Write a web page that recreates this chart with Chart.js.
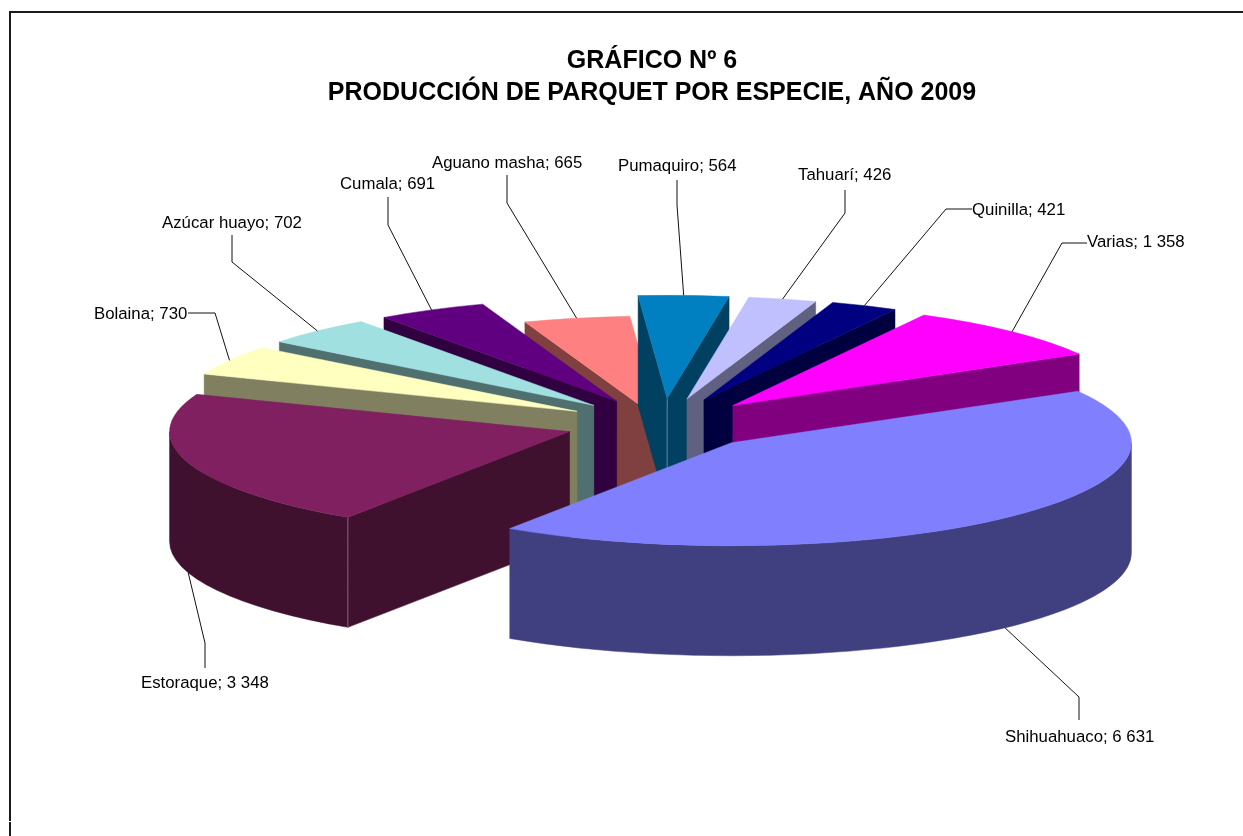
<!DOCTYPE html>
<html><head><meta charset="utf-8">
<style>
html,body{margin:0;padding:0;background:#fff;width:1243px;height:836px;overflow:hidden}
.f{position:absolute;background:#1a1a1a}
#c{position:absolute;left:60px;top:0}
</style>
<script src="https://cdn.jsdelivr.net/npm/chart.js@4"></script>
</head><body>
<div class="f" style="left:9px;top:11px;width:1234px;height:1.5px"></div>
<div class="f" style="left:9px;top:11px;width:1.5px;height:810px"></div>
<div class="f" style="left:9px;top:822px;width:1.5px;height:14px"></div>
<canvas id="c" width="1183" height="836"></canvas>
<script>
const titleLines = ['GRÁFICO Nº 6', 'PRODUCCIÓN DE PARQUET POR ESPECIE, AÑO 2009'];
const categories = ['Shihuahuaco','Estoraque','Bolaina','Azúcar huayo','Cumala','Aguano masha','Pumaquiro','Tahuarí','Quinilla','Varias'];
const values = [6631,3348,730,702,691,665,564,426,421,1358];
const topColors = ['#8080FF','#802060','#FFFFC0','#A0E0E0','#600080','#FF8080','#0080C0','#C0C0FF','#000080','#FF00FF'];
const sideColors = ['#404080','#40102F','#808060','#507070','#300040','#804040','#004060','#606080','#000040','#800080'];
const explode = [100,98,99,100,100,20,100,100,102,100];
const paintOrder = [5,6,7,8,4,3,9,2,1,0];

// Projection of the pie's ground plane onto the page
const SQUASH = 0.2575, DEPTH = 110, PLANE_DX = 11;
// Label layout in canvas pixels: text anchor [x, y, align], then elbow points from the label to the slice
const labelLayout = [
  {t:[945,737,'left'],   p:[[1019,720],[1019,697]]},
  {t:[81,683,'left'],    p:[[145,668],[145,643]]},
  {t:[34,314,'left'],    p:[[128,313],[155,313]]},
  {t:[102,223,'left'],   p:[[172,235],[172,262]]},
  {t:[280,184,'left'],   p:[[328,197],[328,225]]},
  {t:[372,163,'left'],   p:[[447,175],[447,203]]},
  {t:[558,166,'left'],   p:[[617,180],[617,205]]},
  {t:[738,175,'left'],   p:[[785,190],[785,213]]},
  {t:[912,210,'left'],   p:[[912,209],[886,209]]},
  {t:[1027,242,'left'],  p:[[1027,243],[1002,243]]}
];

function fmt(v){ return String(v).replace(/\B(?=(\d{3})+(?!\d))/g,' '); }

function geom(el){
  const p = el.getProps(['x','y','startAngle','endAngle','outerRadius']);
  const off = el.options.offset || 0;
  const mid = (p.startAngle + p.endAngle) / 2;
  return { a0:p.startAngle, a1:p.endAngle, mid, R:p.outerRadius,
    ax:p.x + PLANE_DX + off*Math.cos(mid), ay:p.y + off*Math.sin(mid)*SQUASH };
}

class Pie3D extends Chart.PieController {
  draw(){
    const ctx = this.chart.ctx, data = this._cachedMeta.data;
    paintOrder.forEach(i => {
      const el = data[i]; if(!el) return;
      const g = geom(el), top = el.options.backgroundColor, side = sideColors[i];
      const px = t => g.ax + g.R*Math.cos(t), py = t => g.ay + g.R*SQUASH*Math.sin(t);
      ctx.save();
      ctx.fillStyle = side; ctx.strokeStyle = side; ctx.lineWidth = 0.5;
      const wall = t => {
        ctx.beginPath(); ctx.moveTo(g.ax,g.ay); ctx.lineTo(px(t),py(t));
        ctx.lineTo(px(t),py(t)+DEPTH); ctx.lineTo(g.ax,g.ay+DEPTH); ctx.closePath(); ctx.fill(); ctx.stroke();
      };
      const startVis = Math.cos(g.a0) < 0, endVis = Math.cos(g.a1) > 0;
      if(startVis) wall(g.a0);
      if(endVis) wall(g.a1);
      // front-facing part of the rim
      const ranges = [[0,Math.PI],[2*Math.PI,3*Math.PI],[-2*Math.PI,-Math.PI]];
      let rimA=null;
      ranges.forEach(r => {
        const s = Math.max(g.a0,r[0]), e = Math.min(g.a1,r[1]);
        if(e > s){
          rimA=s;
          ctx.beginPath();
          ctx.ellipse(g.ax,g.ay,g.R,g.R*SQUASH,0,s,e);
          ctx.ellipse(g.ax,g.ay+DEPTH,g.R,g.R*SQUASH,0,e,s,true);
          ctx.closePath(); ctx.fill(); ctx.stroke();
        }
      });
      // thin highlight where two lit side faces meet
      ctx.strokeStyle = 'rgba(255,255,255,0.35)'; ctx.lineWidth = 1;
      const vline = (x,y) => { ctx.beginPath(); ctx.moveTo(x,y); ctx.lineTo(x,y+DEPTH); ctx.stroke(); };
      if(startVis && rimA !== null && rimA === g.a0) vline(px(g.a0),py(g.a0));
      if(startVis && endVis) vline(g.ax,g.ay);
      // top face
      ctx.fillStyle = top; ctx.strokeStyle = top; ctx.lineWidth = 0.5;
      ctx.beginPath(); ctx.moveTo(g.ax,g.ay);
      ctx.ellipse(g.ax,g.ay,g.R,g.R*SQUASH,0,g.a0,g.a1);
      ctx.closePath(); ctx.fill(); ctx.stroke();
      ctx.restore();
    });
  }
}
Pie3D.id = 'pie3d';
Pie3D.defaults = Chart.PieController.defaults;
Chart.register(Pie3D);

const labelPlugin = {
  id:'calloutLabels',
  afterDatasetsDraw(chart){
    const ctx = chart.ctx, data = chart.getDatasetMeta(0).data;
    ctx.save();
    ctx.font = '16.8px "Liberation Sans", Arial, sans-serif';
    ctx.fillStyle = '#000'; ctx.strokeStyle = '#111'; ctx.lineWidth = 1;
    ctx.textBaseline = 'middle';
    data.forEach((el,i) => {
      const g = geom(el), L = labelLayout[i];
      let x = g.ax + g.R*Math.cos(g.mid), y = g.ay + g.R*SQUASH*Math.sin(g.mid);
      if(Math.sin(g.mid) > 0) y += DEPTH;
      ctx.beginPath();
      ctx.moveTo(L.p[0][0],L.p[0][1]);
      L.p.slice(1).forEach(q => ctx.lineTo(q[0],q[1]));
      ctx.lineTo(x,y); ctx.stroke();
      ctx.textAlign = L.t[2];
      ctx.fillText(categories[i] + '; ' + fmt(values[i]), L.t[0], L.t[1]);
    });
    ctx.restore();
  }
};

new Chart(document.getElementById('c'), {
  type:'pie3d',
  data:{ labels:categories, datasets:[{ data:values, backgroundColor:topColors, offset:explode, borderWidth:0, clip:false }] },
  options:{
    responsive:false, animation:false, events:[],
    rotation:60, radius:400,
    layout:{ padding:{ left:1, top:45, bottom:97 } },
    plugins:{
      legend:{display:false}, tooltip:{enabled:false},
      title:{ display:true, text:titleLines, color:'#000', padding:0,
        font:{ family:'"Liberation Sans", Arial, sans-serif', size:25, weight:'bold', lineHeight:1.28 } }
    }
  },
  plugins:[labelPlugin]
});
</script>
</body></html>
